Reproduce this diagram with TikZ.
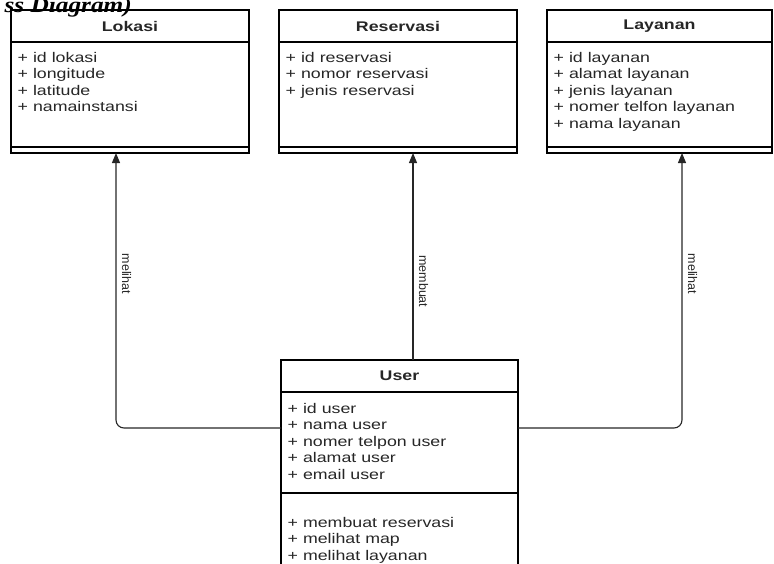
\documentclass[tikz,border=0pt]{standalone}
\usepackage{fontspec}
\usetikzlibrary{positioning,arrows.meta}

\newfontfamily\umlfont[FakeStretch=1.27]{Liberation Sans}
\newfontfamily\labelfont{Liberation Sans}
\newfontfamily\captionfont[FakeStretch=1.15]{Liberation Serif}

\tikzset{
  classhead/.style={draw=black, line width=1.3pt, outer sep=0pt, inner sep=0pt,
    minimum width=#1, minimum height=32pt, text=black!85,
    font=\umlfont\bfseries\fontsize{14}{16}\selectfont},
  classhead/.default=238pt,
  classpart/.style={draw=black, line width=1.3pt, outer sep=0pt, inner sep=0pt,
    minimum width=#1},
  classpart/.default=238pt,
  member/.style={anchor=base west, inner sep=0pt, text=black!85,
    font=\umlfont\fontsize{14}{16}\selectfont},
  link/.style={draw=black!85, line width=1.1pt, rounded corners=8pt,
    -{Triangle[width=8pt,length=10pt]}},
  linklabel/.style={rotate=-90, anchor=south, inner sep=5.5pt, text=black!85,
    font=\labelfont\fontsize{12.5}{14}\selectfont},
}

\begin{document}
\begin{tikzpicture}[x=1pt, y=-1pt]

\useasboundingbox (0,0) rectangle (774,563);
\clip (0,0) rectangle (774,563);

% caption (cut at the top)
\node[anchor=base east, inner sep=0pt,
  font=\captionfont\bfseries\itshape\fontsize{22}{26}\selectfont] (caption) at (132,12.5) {ss Diagram)};

% =========================
% Lokasi
% =========================
\node[classhead] (lokasi) at (130,26) {Lokasi};
\node[classpart, minimum height=105pt, below=0pt of lokasi] (lokasiattr) {};
\node[classpart, minimum height=6pt, below=0pt of lokasiattr] (lokasiop) {};
\foreach \m [count=\i] in {id lokasi, longitude, latitude, namainstansi}
  \node[member] (lokasi-\i) at ([xshift=6.5pt, yshift={-20pt-16.6pt*(\i-1)}]lokasiattr.north west) {+ \m};

% =========================
% Reservasi
% =========================
\node[classhead] (reservasi) at (398,26) {Reservasi};
\node[classpart, minimum height=105pt, below=0pt of reservasi] (reservasiattr) {};
\node[classpart, minimum height=6pt, below=0pt of reservasiattr] (reservasiop) {};
\foreach \m [count=\i] in {id reservasi, nomor reservasi, jenis reservasi}
  \node[member] (reservasi-\i) at ([xshift=6.5pt, yshift={-20pt-16.6pt*(\i-1)}]reservasiattr.north west) {+ \m};

% =========================
% Layanan
% =========================
\node[classhead=225pt] (layanan) at (659.5,26) {Layanan};
\node[classpart=225pt, minimum height=105pt, below=0pt of layanan] (layananattr) {};
\node[classpart=225pt, minimum height=6pt, below=0pt of layananattr] (layananop) {};
\foreach \m [count=\i] in {id layanan, alamat layanan, jenis layanan, nomer telfon layanan, nama layanan}
  \node[member] (layanan-\i) at ([xshift=6.5pt, yshift={-20pt-16.6pt*(\i-1)}]layananattr.north west) {+ \m};

% =========================
% User
% =========================
\node[classhead=237pt] (user) at (399.5,376) {User};
\node[classpart=237pt, minimum height=101pt, below=0pt of user] (userattr) {};
\node[classpart=237pt, minimum height=90pt, below=0pt of userattr] (userop) {};
\foreach \m [count=\i] in {id user, nama user, nomer telpon user, alamat user, email user}
  \node[member] (user-\i) at ([xshift=6.5pt, yshift={-21pt-16.6pt*(\i-1)}]userattr.north west) {+ \m};
\foreach \m [count=\i] in {membuat reservasi, melihat map, melihat layanan}
  \node[member] (userop-\i) at ([xshift=6.5pt, yshift={-34pt-16.6pt*(\i-1)}]userop.north west) {+ \m};

% Relations
\draw[link] ([yshift=14.5pt]userattr.west) -| node[linklabel, pos=0.78] (lbllokasi) {melihat}
  ([xshift=-14pt]lokasiop.south);
\draw[link] ([xshift=13.5pt]user.north) -- node[linklabel, pos=0.38] (lblreservasi) {membuat}
  ([xshift=13.5pt]user.north |- reservasiop.south);
\draw[link] ([yshift=14.5pt]userattr.east) -| node[linklabel, pos=0.78] (lbllayanan) {melihat}
  ([xshift=22.5pt]layananop.south);

\end{tikzpicture}
\end{document}
